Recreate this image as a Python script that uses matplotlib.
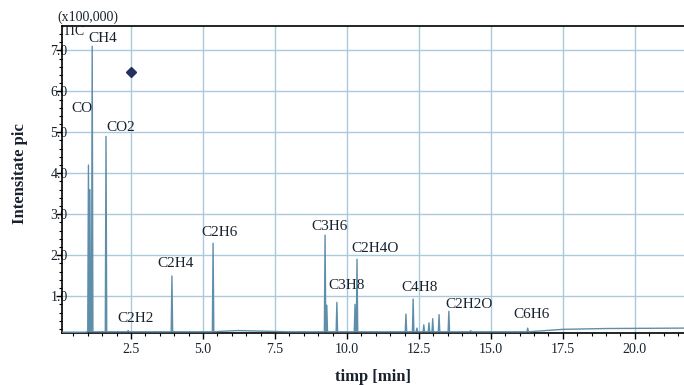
import matplotlib
matplotlib.use("Agg")
import matplotlib.pyplot as plt
from matplotlib.ticker import MultipleLocator, FormatStrFormatter

# peak retention times [min] and heights [x100,000]
peak_times = [1.02, 1.07, 1.15, 1.63, 2.40, 3.92, 5.35, 9.24, 9.30, 9.65,
              10.28, 10.35, 12.05, 12.30, 12.43, 12.67, 12.85, 12.98, 13.20,
              13.54, 14.30, 16.28]
peak_heights = [4.2, 3.6, 7.1, 4.9, 0.16, 1.49, 2.29, 2.49, 0.78, 0.85,
                0.8, 1.9, 0.56, 0.93, 0.22, 0.30, 0.35, 0.45, 0.55,
                0.63, 0.16, 0.22]

# baseline
base_times = [0.1, 0.9, 1.8, 3.0, 5.6, 6.2, 6.8, 8.0, 11.0, 14.0, 16.5,
              17.5, 19.0, 21.7]
base_levels = [0.12, 0.12, 0.13, 0.13, 0.14, 0.16, 0.15, 0.13, 0.13, 0.13,
               0.14, 0.19, 0.21, 0.22]

# compound labels and where they sit
labels = ["CO", "CH4", "CO2", "C2H2", "C2H4", "C2H6", "C3H6", "C3H8",
          "C2H4O", "C4H8", "C2H2O", "C6H6"]
label_x = [0.80, 1.53, 2.15, 2.67, 4.06, 5.56, 9.41, 10.0, 10.97, 12.53,
           14.24, 16.42]
label_y = [5.59, 7.29, 5.12, 0.46, 1.80, 2.56, 2.71, 1.27, 2.17, 1.20,
           0.80, 0.54]

marker_pt = (2.5, 6.46)

sig_color = "#5f8eab"
grid_color = "#a9cadd"
text_color = "#18222e"
serif = ["Liberation Serif", "DejaVu Serif"]

plt.rcParams["font.family"] = serif

fig = plt.figure(figsize=(6.84, 3.85), dpi=100)
ax = fig.add_axes([0.0906, 0.135, 0.909, 0.797])

# build trace: baseline points plus a narrow triangle per peak
half_w = 0.025
pts = list(zip(base_times, base_levels))
for t, h in zip(peak_times, peak_heights):
    b = 0.13
    pts += [(t - half_w, b), (t, h), (t + half_w, b)]
pts.sort()
ax.plot([p[0] for p in pts], [p[1] for p in pts], color=sig_color,
        linewidth=1.0, zorder=3)

ax.plot(*marker_pt, marker="D", markersize=5, color="#23315e", zorder=4)

for name, x, y in zip(labels, label_x, label_y):
    ax.text(x, y, name, ha="center", va="center", fontsize=11,
            color=text_color, zorder=5)

ax.set_xlim(0.1, 21.7)
ax.set_ylim(0.1, 7.59)

ax.xaxis.set_major_locator(MultipleLocator(2.5))
ax.xaxis.set_minor_locator(MultipleLocator(0.5))
ax.yaxis.set_minor_locator(MultipleLocator(0.2))
ax.xaxis.set_major_formatter(FormatStrFormatter("%.1f"))
ax.yaxis.set_major_formatter(FormatStrFormatter("%.1f"))
ax.set_yticks([1, 2, 3, 4, 5, 6, 7])

ax.tick_params(axis="both", which="major", direction="out", length=4,
               width=1, labelsize=10, labelcolor=text_color)
ax.tick_params(axis="both", which="minor", direction="out", length=2.5,
               width=0.8)
ax.tick_params(axis="y", which="major", pad=-8)

ax.grid(True, which="major", color=grid_color, linewidth=1.0, zorder=0)

for side in ("left", "bottom", "top"):
    ax.spines[side].set_color("black")
    ax.spines[side].set_linewidth(1.2)
ax.spines["right"].set_visible(False)

ax.text(0.12, 7.46, "TIC", ha="left", va="center", fontsize=10,
        color=text_color)
ax.text(-0.008, 1.008, "(x100,000)", transform=ax.transAxes, ha="left",
        va="bottom", fontsize=10, color=text_color)

ax.set_ylabel("Intensitate pic", fontsize=12, fontweight="bold",
              color=text_color)
ax.yaxis.set_label_coords(-0.055, 0.52)
ax.set_xlabel("timp [min]", fontsize=12, fontweight="bold",
              color=text_color, labelpad=9)

fig.savefig("out.png", dpi=100)
